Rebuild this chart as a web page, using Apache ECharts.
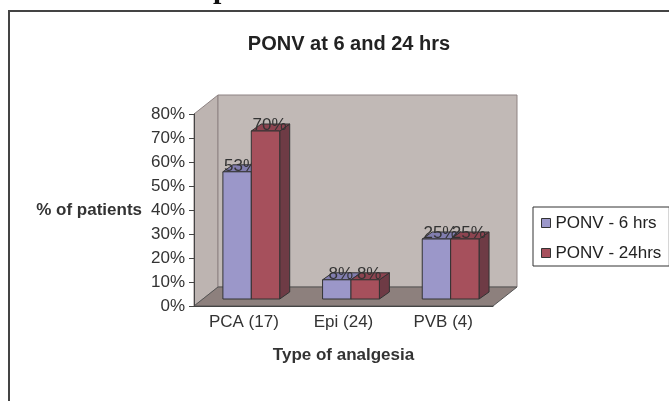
<!DOCTYPE html>
<html>
<head>
<meta charset="utf-8">
<style>
  html, body { margin: 0; padding: 0; background: #fff; }
  #main { width: 669px; height: 401px; }
</style>
<script src="https://cdn.jsdelivr.net/npm/echarts@6/dist/echarts.min.js"></script>
</head>
<body>
<div id="main"></div>
<script>
// data
var categories = ['PCA (17)', 'Epi (24)', 'PVB (4)'];
var ponv6 = [53, 8, 25];
var ponv24 = [70, 8, 25];
var seriesNames = ['PONV - 6 hrs', 'PONV - 24hrs'];

var FONT = '"Liberation Sans", Arial, sans-serif';
var WALL_D = [24, -19];   // depth of the back wall
var BAR_D = [10, -7];     // depth of each bar
var BAR_LIFT = -7;        // bars sit a bit behind the front edge of the floor

var faceColors = [
    { front: '#9b97c9', top: '#817dae', side: '#6f6b98' },
    { front: '#a6505c', top: '#8c4450', side: '#6e3b45' }
];

function renderWalls(params, api) {
    var cs = params.coordSys;
    var l = cs.x, r = cs.x + cs.width, t = cs.y, b = cs.y + cs.height;
    var dx = WALL_D[0], dy = WALL_D[1];
    var edge = { stroke: '#8e8383', lineWidth: 1 };
    return {
        type: 'group',
        children: [
            { type: 'polygon', shape: { points: [[l, t], [l + dx, t + dy], [l + dx, b + dy], [l, b]] },
              style: Object.assign({ fill: '#bdb4b1' }, edge) },
            { type: 'rect', shape: { x: l + dx, y: t + dy, width: cs.width, height: cs.height },
              style: Object.assign({ fill: '#c1b9b6' }, edge) },
            { type: 'polygon', shape: { points: [[l, b], [l + dx, b + dy], [r + dx, b + dy], [r, b]] },
              style: { fill: '#8d807d', stroke: '#555', lineWidth: 1 } }
        ]
    };
}

function makeBarRenderer(k) {
    return function (params, api) {
        var cat = api.value(0);
        var val = api.value(1);
        var base = api.coord([cat, 0]);
        var top = api.coord([cat, val]);
        var bw = api.size([1, 0])[0];
        var w = bw * 0.285;
        var x0 = base[0] - bw / 2 + bw * 0.29 + k * w;
        var yb = base[1] + BAR_LIFT;
        var yt = top[1] + BAR_LIFT;
        var dx = BAR_D[0], dy = BAR_D[1];
        var c = faceColors[k];
        var line = { stroke: '#333', lineWidth: 1 };
        return {
            type: 'group',
            children: [
                { type: 'polygon', shape: { points: [[x0 + w, yt], [x0 + w + dx, yt + dy], [x0 + w + dx, yb + dy], [x0 + w, yb]] },
                  style: Object.assign({ fill: c.side }, line) },
                { type: 'polygon', shape: { points: [[x0, yt], [x0 + w, yt], [x0 + w + dx, yt + dy], [x0 + dx, yt + dy]] },
                  style: Object.assign({ fill: c.top }, line) },
                { type: 'rect', shape: { x: x0, y: yt, width: w, height: yb - yt },
                  style: Object.assign({ fill: c.front }, line) },
                { type: 'text', x: x0 + w / 2 + 4, y: yt + 3,
                  style: { text: val + '%', fill: '#333', font: '17px ' + FONT, align: 'center', verticalAlign: 'bottom' } }
            ]
        };
    };
}

function toPairs(arr) {
    return arr.map(function (v, i) { return [i, v]; });
}

var chart = echarts.init(document.getElementById('main'));
chart.setOption({
    backgroundColor: '#fff',
    animation: false,
    title: {
        text: 'PONV at 6 and 24 hrs',
        left: 344,
        top: 29,
        textAlign: 'center',
        textStyle: { fontFamily: FONT, fontSize: 20, fontWeight: 'bold', color: '#222' }
    },
    graphic: [
        { type: 'rect', shape: { x: 9, y: 11, width: 720, height: 450 },
          style: { fill: 'none', stroke: '#444', lineWidth: 2 } },
        { type: 'text', x: 213, y: -9.5,
          style: { text: 'p', font: 'bold 30px "Liberation Serif", serif', fill: '#111', verticalAlign: 'middle' } }
    ],
    legend: {
        data: seriesNames,
        orient: 'vertical',
        left: 533,
        top: 207,
        padding: [6, 8, 3, 8],
        itemGap: 10,
        itemWidth: 9,
        itemHeight: 9,
        icon: 'rect',
        borderColor: '#333',
        borderWidth: 1,
        backgroundColor: '#fff',
        itemStyle: { borderColor: '#333', borderWidth: 1 },
        textStyle: { fontFamily: FONT, fontSize: 17, color: '#222', lineHeight: 20 }
    },
    grid: { left: 194, right: 176, top: 114, bottom: 95 },
    xAxis: {
        type: 'category',
        data: categories,
        name: 'Type of analgesia',
        nameLocation: 'middle',
        nameGap: 41,
        nameTextStyle: { fontFamily: FONT, fontSize: 17, fontWeight: 'bold', color: '#333' },
        z: 5,
        axisLine: { lineStyle: { color: '#444', width: 1 } },
        axisTick: { length: 5, lineStyle: { color: '#444' } },
        axisLabel: { fontFamily: FONT, fontSize: 17, color: '#333', margin: 8 }
    },
    yAxis: {
        type: 'value',
        min: 0,
        max: 80,
        interval: 10,
        name: '% of patients',
        nameLocation: 'middle',
        nameRotate: 0,
        nameGap: 52,
        nameTextStyle: { fontFamily: FONT, fontSize: 17, fontWeight: 'bold', color: '#333', align: 'right', verticalAlign: 'middle' },
        z: 5,
        splitLine: { show: false },
        axisLine: { show: true, lineStyle: { color: '#444', width: 1 } },
        axisTick: { show: true, length: 5, lineStyle: { color: '#444' } },
        axisLabel: { formatter: '{value}%', fontFamily: FONT, fontSize: 17, color: '#333', margin: 9 }
    },
    series: [
        { type: 'custom', name: 'walls', renderItem: renderWalls, data: [[0, 0]], z: 1, silent: true },
        { type: 'custom', name: seriesNames[0], renderItem: makeBarRenderer(0), data: toPairs(ponv6),
          itemStyle: { color: faceColors[0].front }, z: 2 },
        { type: 'custom', name: seriesNames[1], renderItem: makeBarRenderer(1), data: toPairs(ponv24),
          itemStyle: { color: faceColors[1].front }, z: 3 }
    ]
});
</script>
</body>
</html>
